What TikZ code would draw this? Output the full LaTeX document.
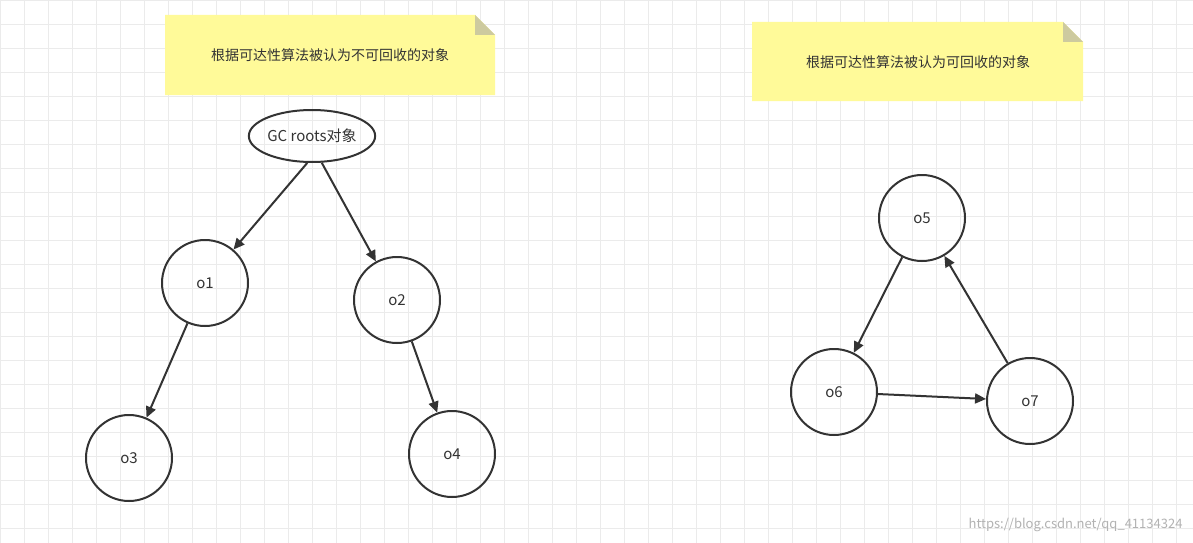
\documentclass[tikz,border=0pt]{standalone}
\usepackage{fontspec}
\setmainfont{Noto Sans CJK SC}
\usetikzlibrary{arrows.meta,shapes.geometric}
\tikzset{
  obj/.style={circle,draw=black!80,line width=2pt,minimum size=86pt,font=\fontsize{15}{17}\selectfont,text=black!80},
  link/.style={draw=black!80,line width=2pt,-{Triangle[length=11pt,width=10pt]}},
  note/.style={fill=yellow!40!white,draw=none},
  notetext/.style={font=\fontsize{14}{16}\selectfont,text=black!80}
}
\begin{document}
\begin{tikzpicture}[x=1pt,y=-1pt]
\useasboundingbox (0,0) rectangle (1193,543);
\fill[white] (0,0) rectangle (1193,543);
% grid
\foreach \x in {0,24,...,1193} \draw[black!8] (\x,0) -- (\x,543);
\foreach \y in {0,24,...,543} \draw[black!8] (0,\y) -- (1193,\y);
% notes
\fill[note] (165,15) -- (475,15) -- (495,35) -- (495,95) -- (165,95) -- cycle;
\fill[yellow!50!black!45] (475,15) -- (495,35) -- (475,35) -- cycle;
\node[notetext] (noteA) at (330,55) {根据可达性算法被认为不可回收的对象};
\fill[note] (752,22) -- (1063,22) -- (1083,42) -- (1083,101) -- (752,101) -- cycle;
\fill[yellow!50!black!45] (1063,22) -- (1083,42) -- (1063,42) -- cycle;
\node[notetext] (noteB) at (918,62) {根据可达性算法被认为可回收的对象};
% objects
\node[ellipse,draw=black!80,line width=2pt,minimum width=126pt,minimum height=52pt,inner sep=0pt,font=\fontsize{15}{17}\selectfont,text=black!80] (gc) at (312,136) {GC roots对象};
\node[obj] (o1) at (205,283) {o1};
\node[obj] (o2) at (397,300) {o2};
\node[obj] (o3) at (129,458) {o3};
\node[obj] (o4) at (452,454) {o4};
\node[obj] (o5) at (922,218) {o5};
\node[obj] (o6) at (834,392) {o6};
\node[obj] (o7) at (1030,401) {o7};
% references
\draw[link] (gc.-100) -- (o1);
\draw[link] (gc.-70) -- (o2);
\draw[link] (o1) -- (o3);
\draw[link] (o2) -- (o4);
\draw[link] (o5) -- (o6);
\draw[link] (o6) -- (o7);
\draw[link] (o7) -- (o5);
\node[anchor=east,text=black!30,font=\fontsize{13}{15}\selectfont] (mark) at (1186,525) {https://blog.csdn.net/qq\_41134324};
\end{tikzpicture}
\end{document}
